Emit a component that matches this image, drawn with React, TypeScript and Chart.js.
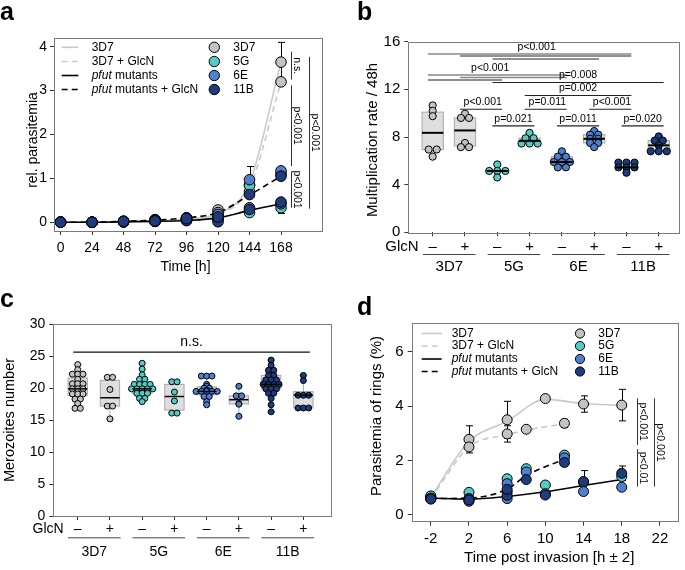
import React, { useEffect, useRef } from 'react';
import { Chart, registerables } from 'chart.js';

Chart.register(...registerables);

const FONT = '"Liberation Sans", Arial, Helvetica, sans-serif';
const GREY = '#c3c3c3';
const TURQ = '#4fcdc4';
const BLUE = '#4e7fd1';
const NAVY = '#1f3b7b';
const CURVE_GREY = '#c9c9c9';
const FRAME = '#7a7a7a';

// ---------------- panel a : growth curves ----------------
const aTime = [0, 24, 48, 72, 96, 120, 144, 168];
const aXTicks = [0, 24, 48, 72, 96, 120, 144, 168];
const aYTicks = [0, 1, 2, 3, 4];
const aCurve3D7 = [0, 0, 0.01, 0.03, 0.07, 0.2, 0.9, 3.65];
const aCurve3D7GlcN = [0, 0, 0.01, 0.03, 0.07, 0.18, 0.8, 3.2];
const aCurveMut = [0, 0, 0.01, 0.02, 0.04, 0.1, 0.27, 0.42];
const aCurveMutGlcN = [0, 0, 0.02, 0.05, 0.1, 0.22, 0.62, 1.05];
const a3D7 = [0, 0, 0.01, 0.05, 0.08, 0.28, 0.85, 3.65];
const a3D7GlcN = [0, 0, 0.02, 0.06, 0.1, 0.22, 0.7, 3.2];
const a5G = [0, 0, 0.01, 0.02, 0.04, 0.06, 0.22, 0.33];
const a5GGlcN = [0, 0, 0.02, 0.04, 0.08, 0.15, 0.84, 1.1];
const a6E = [0, 0, 0.01, 0.02, 0.05, 0.08, 0.33, 0.42];
const a6EGlcN = [0, 0, 0.02, 0.05, 0.1, 0.18, 0.97, 1.17];
const a11B = [0, 0, 0.01, 0.02, 0.04, 0.01, 0.29, 0.46];
const a11BGlcN = [0, 0, 0.02, 0.03, 0.08, 0.12, 0.63, 1.05];
const a3D7Err = [0, 0, 0, 0.01, 0.02, 0.05, 0.15, 0.45];
const a5GErr = [0, 0, 0, 0, 0.01, 0.02, 0.05, 0.13];
const a6EGlcNErr = [0, 0, 0, 0.01, 0.02, 0.04, 0.3, 0.05];
const aSigX = [175.6, 175.6, 175.6, 189.5];
const aSigFrom = [3.89, 3.12, 1.16, 3.77];
const aSigTo = [3.25, 1.28, 0.33, 0.31];
const aSigText = ['n.s.', 'p<0.001', 'p<0.001', 'p<0.001'];

// ---------------- panel b : multiplication rate ----------------
const groupNames = ['3D7', '5G', '6E', '11B'];
const bYTicks = [0, 4, 8, 12, 16];
const catTicks = [1, 2, 3, 4, 5, 6, 7, 8];
const b3D7 = [10.65, 10.2, 9.75, 6.95, 6.95, 6.35];
const b3D7GlcN = [9.95, 9.6, 9.6, 7.5, 7.15, 7.15];
const b5G = [5.7, 5.15, 5.15, 5.15, 4.6];
const b5GGlcN = [8.35, 7.9, 7.9, 7.45, 7.45, 7.45];
const b6E = [6.8, 6.35, 6.35, 5.9, 5.9, 5.9, 5.45, 5.45];
const b6EGlcN = [8.5, 8.2, 8.2, 7.85, 7.85, 7.5, 7.5, 7.15];
const b11B = [5.85, 5.85, 5.85, 5.45, 5.45, 5.45, 5.0];
const b11BGlcN = [8.05, 7.7, 7.7, 7.3, 6.8, 6.8, 6.8];
const bBrFrom = [1, 2, 3, 1, 2, 1, 3, 4, 2, 4, 6, 3, 5, 7];
const bBrTo = [7, 7, 6, 5, 5, 3, 8, 7, 3, 5, 7, 4, 6, 8];
const bBrY = [14.97, 14.8, 14.55, 13.2, 13.0, 12.79, 12.58, 11.49, 10.33, 10.33, 10.33, 8.93, 8.93, 8.93];
const bBrText = ['p<0.001', '', '', 'p<0.001', '', '', 'p=0.008', 'p=0.002', 'p<0.001', 'p=0.011', 'p<0.001', 'p=0.021', 'p=0.011', 'p=0.020'];
const bBrTextX = [4.22, 0, 0, 2.78, 0, 0, 5.5, 5.5, 2.55, 4.55, 6.55, 3.5, 5.5, 7.5];
const bBrGrey = [1, 0, 0, 1, 1, 0, 0, 0, 0, 0, 0, 0, 0, 0];

// ---------------- panel c : merozoites ----------------
const cYTicks = [0, 5, 10, 15, 20, 25, 30];
const c3D7 = [23.7, 22.9, 22.2, 22.2, 22.2, 21.4, 20.7, 20.7, 20.7, 19.9, 19.9, 19.9, 19.1, 19.1, 19.1, 18.3, 18.3, 17.6, 16.85, 16.85];
const c3D7GlcN = [21.7, 21.7, 19.8, 17.2, 17.2, 15.2];
const c5G = [23.9, 23.0, 22.1, 21.4, 21.4, 20.6, 20.6, 20.6, 20.6, 19.9, 19.9, 19.9, 19.9, 19.9, 19.2, 19.2, 19.2, 18.4, 18.4, 17.9];
const c5GGlcN = [21.0, 21.0, 19.4, 18.0, 16.1, 16.1];
const c6E = [21.9, 21.9, 21.9, 20.6, 20.3, 20.0, 20.0, 19.7, 19.5, 19.5, 19.5, 19.5, 19.5, 18.8, 18.7, 18.7, 17.9, 17.4];
const c6EGlcN = [20.3, 18.8, 18.8, 17.6, 17.5, 15.6];
const c11B = [24.4, 23.6, 22.8, 22.8, 22.0, 22.0, 21.3, 21.3, 21.3, 20.6, 20.6, 20.6, 20.6, 19.9, 19.9, 19.9, 19.2, 19.2, 18.4, 17.4, 16.3];
const c11BGlcN = [22.0, 21.2, 18.9, 18.9, 18.9, 16.9, 16.9, 16.9];
const cNsFrom = [0.86];
const cNsTo = [8.2];
const cNsY = [25.66];
const cNsText = ['n.s.'];

// ---------------- panel d : ring parasitemia ----------------
const dTimeNo = [-2, 2, 6, 10, 14, 18];
const dTimeGlcN = [-2, 2, 6, 8, 12];
const dXTicks = [-2, 2, 6, 10, 14, 18, 22];
const dYTicks = [0, 2, 4, 6];
const dCurve3D7 = [0.65, 2.7, 3.45, 4.25, 4.1, 4.03];
const dCurve3D7GlcN = [0.6, 2.5, 2.95, 3.12, 3.35];
const dCurveMut = [0.62, 0.58, 0.68, 0.85, 1.08, 1.3];
const dCurveMutGlcN = [0.6, 0.62, 0.95, 1.45, 2.05];
const d3D7 = [0.62, 2.78, 3.5, 4.28, 4.08, 4.04];
const d3D7GlcN = [0.6, 2.5, 2.98, 3.15, 3.37];
const d5G = [0.68, 0.55, 0.85, 1.1, 1.2, 1.41];
const d5GGlcN = [0.7, 0.83, 1.33, 1.7, 2.2];
const d6E = [0.6, 0.5, 0.6, 0.78, 0.86, 1.02];
const d6EGlcN = [0.62, 0.6, 1.15, 1.58, 2.1];
const d11B = [0.6, 0.6, 0.72, 0.73, 1.23, 1.53];
const d11BGlcN = [0.58, 0.55, 0.94, 1.3, 1.93];
const d3D7Err = [0, 0.5, 0.68, 0.05, 0.3, 0.58];
const d3D7GlcNErr = [0, 0.1, 0.3, 0.05, 0.15];
const d11BErr = [0, 0, 0.05, 0.05, 0.4, 0.27];
const dSigX = [19.57, 19.57, 21.37];
const dSigFrom = [4.29, 2.42, 4.29];
const dSigTo = [2.57, 1.04, 1.04];
const dSigText = ['p<0.001', 'p<0.01', 'p<0.001'];

const lineLegend = ['3D7', '3D7 + GlcN', 'pfut mutants', 'pfut mutants + GlcN'];
const strainLegend = ['3D7', '5G', '6E', '11B'];

// ---------------- helpers ----------------
const STRAIN_COLORS = [GREY, TURQ, BLUE, NAVY];
const CAT_COLORS = [GREY, GREY, TURQ, TURQ, BLUE, BLUE, NAVY, NAVY];
const LEG_LINE_COLORS = [CURVE_GREY, CURVE_GREY, '#000', '#000'];
const LEG_DASH = [false, true, false, true];

function txt(ctx: any, s: string, x: number, y: number, o: any) {
  ctx.save();
  ctx.font = `${o.style || 'normal'} ${o.weight || 'normal'} ${o.size}px ${FONT}`;
  ctx.fillStyle = o.color || '#000';
  ctx.textAlign = o.align || 'left';
  ctx.textBaseline = o.base || 'middle';
  ctx.translate(x, y);
  if (o.rot) ctx.rotate(o.rot);
  ctx.fillText(s, 0, 0);
  ctx.restore();
}

function seg(ctx: any, x1: number, y1: number, x2: number, y2: number, color: string, w: number, dash?: number[]) {
  ctx.save();
  ctx.strokeStyle = color;
  ctx.lineWidth = w;
  ctx.setLineDash(dash || []);
  ctx.beginPath();
  ctx.moveTo(x1, y1);
  ctx.lineTo(x2, y2);
  ctx.stroke();
  ctx.restore();
}

function frame(ctx: any, ar: any) {
  ctx.save();
  ctx.strokeStyle = FRAME;
  ctx.lineWidth = 1;
  ctx.strokeRect(Math.round(ar.left) + 0.5, Math.round(ar.top) + 0.5, Math.round(ar.right - ar.left) - 1, Math.round(ar.bottom - ar.top));
  ctx.restore();
}

function legendLabel(ctx: any, s: string, x: number, y: number, size: number) {
  if (s.startsWith('pfut')) {
    ctx.save();
    ctx.font = `italic ${size}px ${FONT}`;
    const w = ctx.measureText('pfut').width;
    ctx.restore();
    txt(ctx, 'pfut', x, y, { size, style: 'italic' });
    txt(ctx, s.slice(4), x + w, y, { size });
  } else {
    txt(ctx, s, x, y, { size });
  }
}

function drawLegend(ctx: any, rows: number[], lx1: number, lx2: number, ltx: number, cx: number, ctx2: number, r: number, size: number) {
  rows.forEach((y, i) => {
    seg(ctx, lx1, y, lx2, y, LEG_LINE_COLORS[i], 1.6, LEG_DASH[i] ? [6, 4] : []);
    legendLabel(ctx, lineLegend[i], ltx, y, size);
    ctx.save();
    ctx.beginPath();
    ctx.arc(cx, y, r, 0, Math.PI * 2);
    ctx.fillStyle = STRAIN_COLORS[i];
    ctx.fill();
    ctx.strokeStyle = '#000';
    ctx.lineWidth = 1;
    ctx.stroke();
    ctx.restore();
    txt(ctx, strainLegend[i], ctx2, y, { size });
  });
}

function vSig(ctx: any, xs: any, ys: any, X: number[], F: number[], T: number[], L: string[], size: number) {
  X.forEach((xv, i) => {
    const x = Math.round(xs.getPixelForValue(xv)) + 0.5;
    const y1 = ys.getPixelForValue(F[i]);
    const y2 = ys.getPixelForValue(T[i]);
    seg(ctx, x, y1, x, y2, '#333', 1);
    txt(ctx, L[i], x + 2.5, (y1 + y2) / 2, { size, align: 'center', base: 'alphabetic', rot: Math.PI / 2 });
  });
}

function errorBars(chart: any) {
  const { ctx, scales } = chart;
  chart.data.datasets.forEach((ds: any) => {
    if (!ds.errors) return;
    ds.data.forEach((p: any, i: number) => {
      const e = ds.errors[i];
      if (!e) return;
      const x = Math.round(scales.x.getPixelForValue(p.x)) + 0.5;
      const yt = scales.y.getPixelForValue(p.y + e);
      const yb = scales.y.getPixelForValue(p.y - e);
      seg(ctx, x, yt, x, yb, '#000', 1);
      seg(ctx, x - 3.5, yt, x + 3.5, yt, '#000', 1);
      seg(ctx, x - 3.5, yb, x + 3.5, yb, '#000', 1);
    });
  });
}

function quantile(vals: number[], q: number) {
  const s = [...vals].sort((a, b) => a - b);
  const pos = (s.length - 1) * q;
  const lo = Math.floor(pos);
  const hi = Math.ceil(pos);
  return s[lo] + (s[hi] - s[lo]) * (pos - lo);
}

function rowOffsets(vals: number[], step: number) {
  const groups = new Map<number, number[]>();
  vals.forEach((v, i) => {
    const k = Math.round(v * 100);
    if (!groups.has(k)) groups.set(k, []);
    groups.get(k)!.push(i);
  });
  const off = new Array(vals.length).fill(0);
  groups.forEach((idx) => idx.forEach((i, j) => { off[i] = (j - (idx.length - 1) / 2) * step; }));
  return off;
}

const pts = (xs: number[], ys: number[]) => xs.map((x, i) => ({ x, y: ys[i] }));

function curve(xs: number[], ys: number[], color: string, dashed: boolean, order: number) {
  return {
    type: 'line', data: pts(xs, ys), borderColor: color, borderWidth: 1.6,
    borderDash: dashed ? [6, 4] : [], pointRadius: 0, pointHoverRadius: 0, showLine: true,
    cubicInterpolationMode: 'monotone', fill: false, order,
  };
}

function dots(xs: number[], ys: number[], color: string, r: number, order: number, errors?: number[]) {
  return {
    type: 'scatter', data: pts(xs, ys), backgroundColor: color, borderColor: '#000',
    borderWidth: 1, pointRadius: r, pointHoverRadius: r, showLine: false, order, errors, clip: false,
  };
}

function makeOptions(p: any) {
  const tickFont = { family: FONT, size: p.font };
  return {
    animation: false,
    responsive: false,
    maintainAspectRatio: false,
    events: [],
    layout: { padding: { left: 0, top: p.area.t, right: p.W - p.area.r, bottom: 0 } },
    plugins: { legend: { display: false }, tooltip: { enabled: false }, title: { display: false } },
    scales: {
      x: {
        type: 'linear', min: p.x[0], max: p.x[1],
        afterBuildTicks: (s: any) => { s.ticks = p.xTicks.map((v: number) => ({ value: v })); },
        afterFit: (s: any) => { s.height = p.H - p.area.b; },
        grid: { display: true, drawOnChartArea: false, drawTicks: true, tickLength: 4, color: '#333', tickColor: '#333' },
        border: { display: false },
        ticks: { display: p.xLabels, font: tickFont, color: '#000', padding: p.xPad, maxRotation: 0, autoSkip: false },
      },
      y: {
        type: 'linear', min: p.y[0], max: p.y[1],
        afterBuildTicks: (s: any) => { s.ticks = p.yTicks.map((v: number) => ({ value: v })); },
        afterFit: (s: any) => { s.width = p.area.l; },
        grid: { display: true, drawOnChartArea: false, drawTicks: true, tickLength: 4, color: '#333', tickColor: '#333' },
        border: { display: false },
        ticks: { font: tickFont, color: '#000', padding: p.yPad, autoSkip: false },
      },
    },
  };
}

function boxPlugin(cats: number[][], half: number, medW: number) {
  return {
    id: 'boxes',
    beforeDatasetsDraw(chart: any) {
      const { ctx, scales: { x, y } } = chart;
      cats.forEach((vals, k) => {
        const c = k + 1;
        const q1 = y.getPixelForValue(quantile(vals, 0.25));
        const q3 = y.getPixelForValue(quantile(vals, 0.75));
        const lo = y.getPixelForValue(Math.min(...vals));
        const hi = y.getPixelForValue(Math.max(...vals));
        const xl = x.getPixelForValue(c - half);
        const xr = x.getPixelForValue(c + half);
        const xc = x.getPixelForValue(c);
        seg(ctx, xc, q3, xc, hi, '#a8a8a8', 1);
        seg(ctx, xc, q1, xc, lo, '#a8a8a8', 1);
        seg(ctx, xc - 4, hi, xc + 4, hi, '#a8a8a8', 1);
        seg(ctx, xc - 4, lo, xc + 4, lo, '#a8a8a8', 1);
        ctx.save();
        ctx.fillStyle = '#dedede';
        ctx.fillRect(xl, q3, xr - xl, q1 - q3);
        ctx.strokeStyle = '#a8a8a8';
        ctx.lineWidth = 1;
        ctx.strokeRect(xl, q3, xr - xl, q1 - q3);
        ctx.restore();
      });
    },
    afterDatasetsDraw(chart: any) {
      const { ctx, scales: { x, y } } = chart;
      cats.forEach((vals, k) => {
        const c = k + 1;
        const m = y.getPixelForValue(quantile(vals, 0.5));
        seg(ctx, x.getPixelForValue(c - half), m, x.getPixelForValue(c + half), m, '#000', medW);
      });
    },
  };
}

function glcnRow(ctx: any, xs: any, yRow: number, yLine: number, yLab: number, size: number) {
  const x1 = xs.getPixelForValue(1);
  txt(ctx, 'GlcN', x1 - 14, yRow, { size, align: 'right' });
  catTicks.forEach((c) => txt(ctx, c % 2 ? '–' : '+', xs.getPixelForValue(c), yRow, { size, align: 'center' }));
  groupNames.forEach((g, gi) => {
    const a = xs.getPixelForValue(2 * gi + 1 - 0.3);
    const b = xs.getPixelForValue(2 * gi + 2 + 0.33);
    seg(ctx, a, yLine + 0.5, b, yLine + 0.5, '#444', 1);
    txt(ctx, g, (a + b) / 2, yLab, { size, align: 'center' });
  });
}

function catDatasets(cats: number[][], step: number, r: number) {
  return cats.map((vals, k) => {
    const off = rowOffsets(vals, step);
    return {
      type: 'scatter', data: vals.map((v, i) => ({ x: k + 1 + off[i], y: v })),
      backgroundColor: CAT_COLORS[k], borderColor: '#000', borderWidth: 1,
      pointRadius: r, pointHoverRadius: r, order: 1, clip: false,
    };
  });
}

// ---------------- configs ----------------
function configA() {
  const area = { l: 54, t: 38, r: 323, b: 231 };
  const options = makeOptions({ W: 342, H: 285, area, x: [-5, 200], y: [-0.2, 4.2], xTicks: aXTicks, yTicks: aYTicks, font: 14, xLabels: true, xPad: 5, yPad: 3 });
  const R = 5.3;
  const datasets = [
    curve(aTime, aCurve3D7, CURVE_GREY, false, 20),
    curve(aTime, aCurve3D7GlcN, CURVE_GREY, true, 19),
    curve(aTime, aCurveMut, '#000', false, 18),
    curve(aTime, aCurveMutGlcN, '#000', true, 17),
    dots(aTime, a3D7, GREY, R, 10, a3D7Err),
    dots(aTime, a3D7GlcN, GREY, R, 9),
    dots(aTime, a5G, TURQ, R, 8, a5GErr),
    dots(aTime, a5GGlcN, TURQ, R, 7),
    dots(aTime, a6E, BLUE, R, 6),
    dots(aTime, a6EGlcN, BLUE, R, 5, a6EGlcNErr),
    dots(aTime, a11B, NAVY, R, 4),
    dots(aTime, a11BGlcN, NAVY, R, 3),
  ];
  const decor = {
    id: 'decor',
    beforeDatasetsDraw: (chart: any) => errorBars(chart),
    afterDraw(chart: any) {
      const { ctx, chartArea, scales: { x, y } } = chart;
      frame(ctx, chartArea);
      drawLegend(ctx, [47.3, 61.5, 75.5, 89.5], 61.7, 78.3, 91.7, 214.3, 233.3, 5.2, 12);
      vSig(ctx, x, y, aSigX, aSigFrom, aSigTo, aSigText, 10.5);
      txt(ctx, 'Time [h]', 185.5, 267, { size: 14, align: 'center' });
      txt(ctx, 'rel. parasitemia', 33, 140, { size: 14, align: 'center', rot: -Math.PI / 2 });
      txt(ctx, 'a', 0, 20, { size: 25, weight: 'bold', base: 'alphabetic' });
    },
  };
  return { type: 'scatter', data: { datasets }, options, plugins: [decor] };
}

function configB() {
  const area = { l: 66.3, t: 41.7, r: 338.7, b: 232.3 };
  const options = makeOptions({ W: 343, H: 285, area, x: [0.245, 8.67], y: [0, 16], xTicks: catTicks, yTicks: bYTicks, font: 15, xLabels: false, xPad: 4, yPad: 4 });
  const cats = [b3D7, b3D7GlcN, b5G, b5GGlcN, b6E, b6EGlcN, b11B, b11BGlcN];
  const datasets = catDatasets(cats, 0.25, 3.6);
  const decor = {
    id: 'decor',
    afterDraw(chart: any) {
      const { ctx, chartArea, scales: { x, y } } = chart;
      frame(ctx, chartArea);
      bBrFrom.forEach((f, i) => {
        const x1 = x.getPixelForValue(f - 0.15);
        const x2 = x.getPixelForValue(bBrTo[i] + 0.15);
        const yy = y.getPixelForValue(bBrY[i]);
        seg(ctx, x1, yy, x2, yy, bBrGrey[i] ? '#888' : '#222', bBrGrey[i] ? 1.6 : 1.1);
        if (bBrText[i]) txt(ctx, bBrText[i], x.getPixelForValue(bBrTextX[i]), yy - 2, { size: 10.5, align: 'center', base: 'bottom' });
      });
      glcnRow(ctx, x, 246.7, 254, 266.7, 15);
      txt(ctx, 'Multiplication rate / 48h', 31.3, 140, { size: 15, align: 'center', rot: -Math.PI / 2 });
      txt(ctx, 'b', 15, 20, { size: 25, weight: 'bold', base: 'alphabetic' });
    },
  };
  return { type: 'scatter', data: { datasets }, options, plugins: [boxPlugin(cats, 0.33, 2), decor] };
}

function configC() {
  const area = { l: 53.3, t: 39.3, r: 332.7, b: 231 };
  const options = makeOptions({ W: 342, H: 285, area, x: [0.243, 8.91], y: [0, 30], xTicks: catTicks, yTicks: cYTicks, font: 14, xLabels: false, xPad: 4, yPad: 4 });
  const cats = [c3D7, c3D7GlcN, c5G, c5GGlcN, c6E, c6EGlcN, c11B, c11BGlcN];
  const datasets = catDatasets(cats, 0.165, 3.0);
  const decor = {
    id: 'decor',
    afterDraw(chart: any) {
      const { ctx, chartArea, scales: { x, y } } = chart;
      frame(ctx, chartArea);
      cNsFrom.forEach((f, i) => {
        const x1 = x.getPixelForValue(f);
        const x2 = x.getPixelForValue(cNsTo[i]);
        const yy = y.getPixelForValue(cNsY[i]);
        seg(ctx, x1, yy, x2, yy, '#111', 1.3);
        txt(ctx, cNsText[i], (x1 + x2) / 2, yy - 3, { size: 14, align: 'center', base: 'bottom' });
      });
      glcnRow(ctx, x, 244.3, 252.3, 266.7, 14);
      txt(ctx, 'Merozoites number', 10, 135, { size: 14.5, align: 'center', rot: -Math.PI / 2 });
      txt(ctx, 'c', 0, 22, { size: 25, weight: 'bold', base: 'alphabetic' });
    },
  };
  return { type: 'scatter', data: { datasets }, options, plugins: [boxPlugin(cats, 0.3, 1.5), decor] };
}

function configD() {
  const area = { l: 69.7, t: 38.3, r: 342.5, b: 236.7 };
  const options = makeOptions({ W: 343, H: 285, area, x: [-4, 24], y: [-0.25, 7.05], xTicks: dXTicks, yTicks: dYTicks, font: 15, xLabels: true, xPad: 4, yPad: 4 });
  const R = 5;
  const datasets = [
    curve(dTimeNo, dCurve3D7, CURVE_GREY, false, 20),
    curve(dTimeGlcN, dCurve3D7GlcN, CURVE_GREY, true, 19),
    curve(dTimeNo, dCurveMut, '#000', false, 18),
    curve(dTimeGlcN, dCurveMutGlcN, '#000', true, 17),
    dots(dTimeNo, d3D7, GREY, R, 10, d3D7Err),
    dots(dTimeGlcN, d3D7GlcN, GREY, R, 9, d3D7GlcNErr),
    dots(dTimeNo, d5G, TURQ, R, 8),
    dots(dTimeGlcN, d5GGlcN, TURQ, R, 7),
    dots(dTimeNo, d6E, BLUE, R, 6),
    dots(dTimeGlcN, d6EGlcN, BLUE, R, 5),
    dots(dTimeNo, d11B, NAVY, R, 4, d11BErr),
    dots(dTimeGlcN, d11BGlcN, NAVY, R, 3),
  ];
  const decor = {
    id: 'decor',
    beforeDatasetsDraw: (chart: any) => errorBars(chart),
    afterDraw(chart: any) {
      const { ctx, chartArea, scales: { x, y } } = chart;
      frame(ctx, chartArea);
      drawLegend(ctx, [48.5, 61, 74, 86.5], 79.7, 99.7, 109.7, 238, 256.3, 4.6, 12);
      vSig(ctx, x, y, dSigX, dSigFrom, dSigTo, dSigText, 10.5);
      txt(ctx, 'Time post invasion [h ± 2]', 207.2, 272.7, { size: 15, align: 'center' });
      txt(ctx, 'Parasitemia of rings (%)', 34.7, 131, { size: 15, align: 'center', rot: -Math.PI / 2 });
      txt(ctx, 'd', 15, 30, { size: 25, weight: 'bold', base: 'alphabetic' });
    },
  };
  return { type: 'scatter', data: { datasets }, options, plugins: [decor] };
}

export default function App() {
  const ra = useRef<HTMLCanvasElement>(null);
  const rb = useRef<HTMLCanvasElement>(null);
  const rc = useRef<HTMLCanvasElement>(null);
  const rd = useRef<HTMLCanvasElement>(null);
  useEffect(() => {
    const charts = [
      new Chart(ra.current as any, configA() as any),
      new Chart(rb.current as any, configB() as any),
      new Chart(rc.current as any, configC() as any),
      new Chart(rd.current as any, configD() as any),
    ];
    return () => charts.forEach((c) => c.destroy());
  }, []);
  const cs = (left: number, top: number, w: number, h: number) => ({ position: 'absolute' as const, left, top, width: w, height: h });
  return (
    <div style={{ position: 'absolute', left: 0, top: 0, width: 685, height: 570, background: '#fff', overflow: 'hidden' }}>
      <canvas ref={ra} width={342} height={285} style={cs(0, 0, 342, 285)} />
      <canvas ref={rb} width={343} height={285} style={cs(342, 0, 343, 285)} />
      <canvas ref={rc} width={342} height={285} style={cs(0, 285, 342, 285)} />
      <canvas ref={rd} width={343} height={285} style={cs(342, 285, 343, 285)} />
    </div>
  );
}
